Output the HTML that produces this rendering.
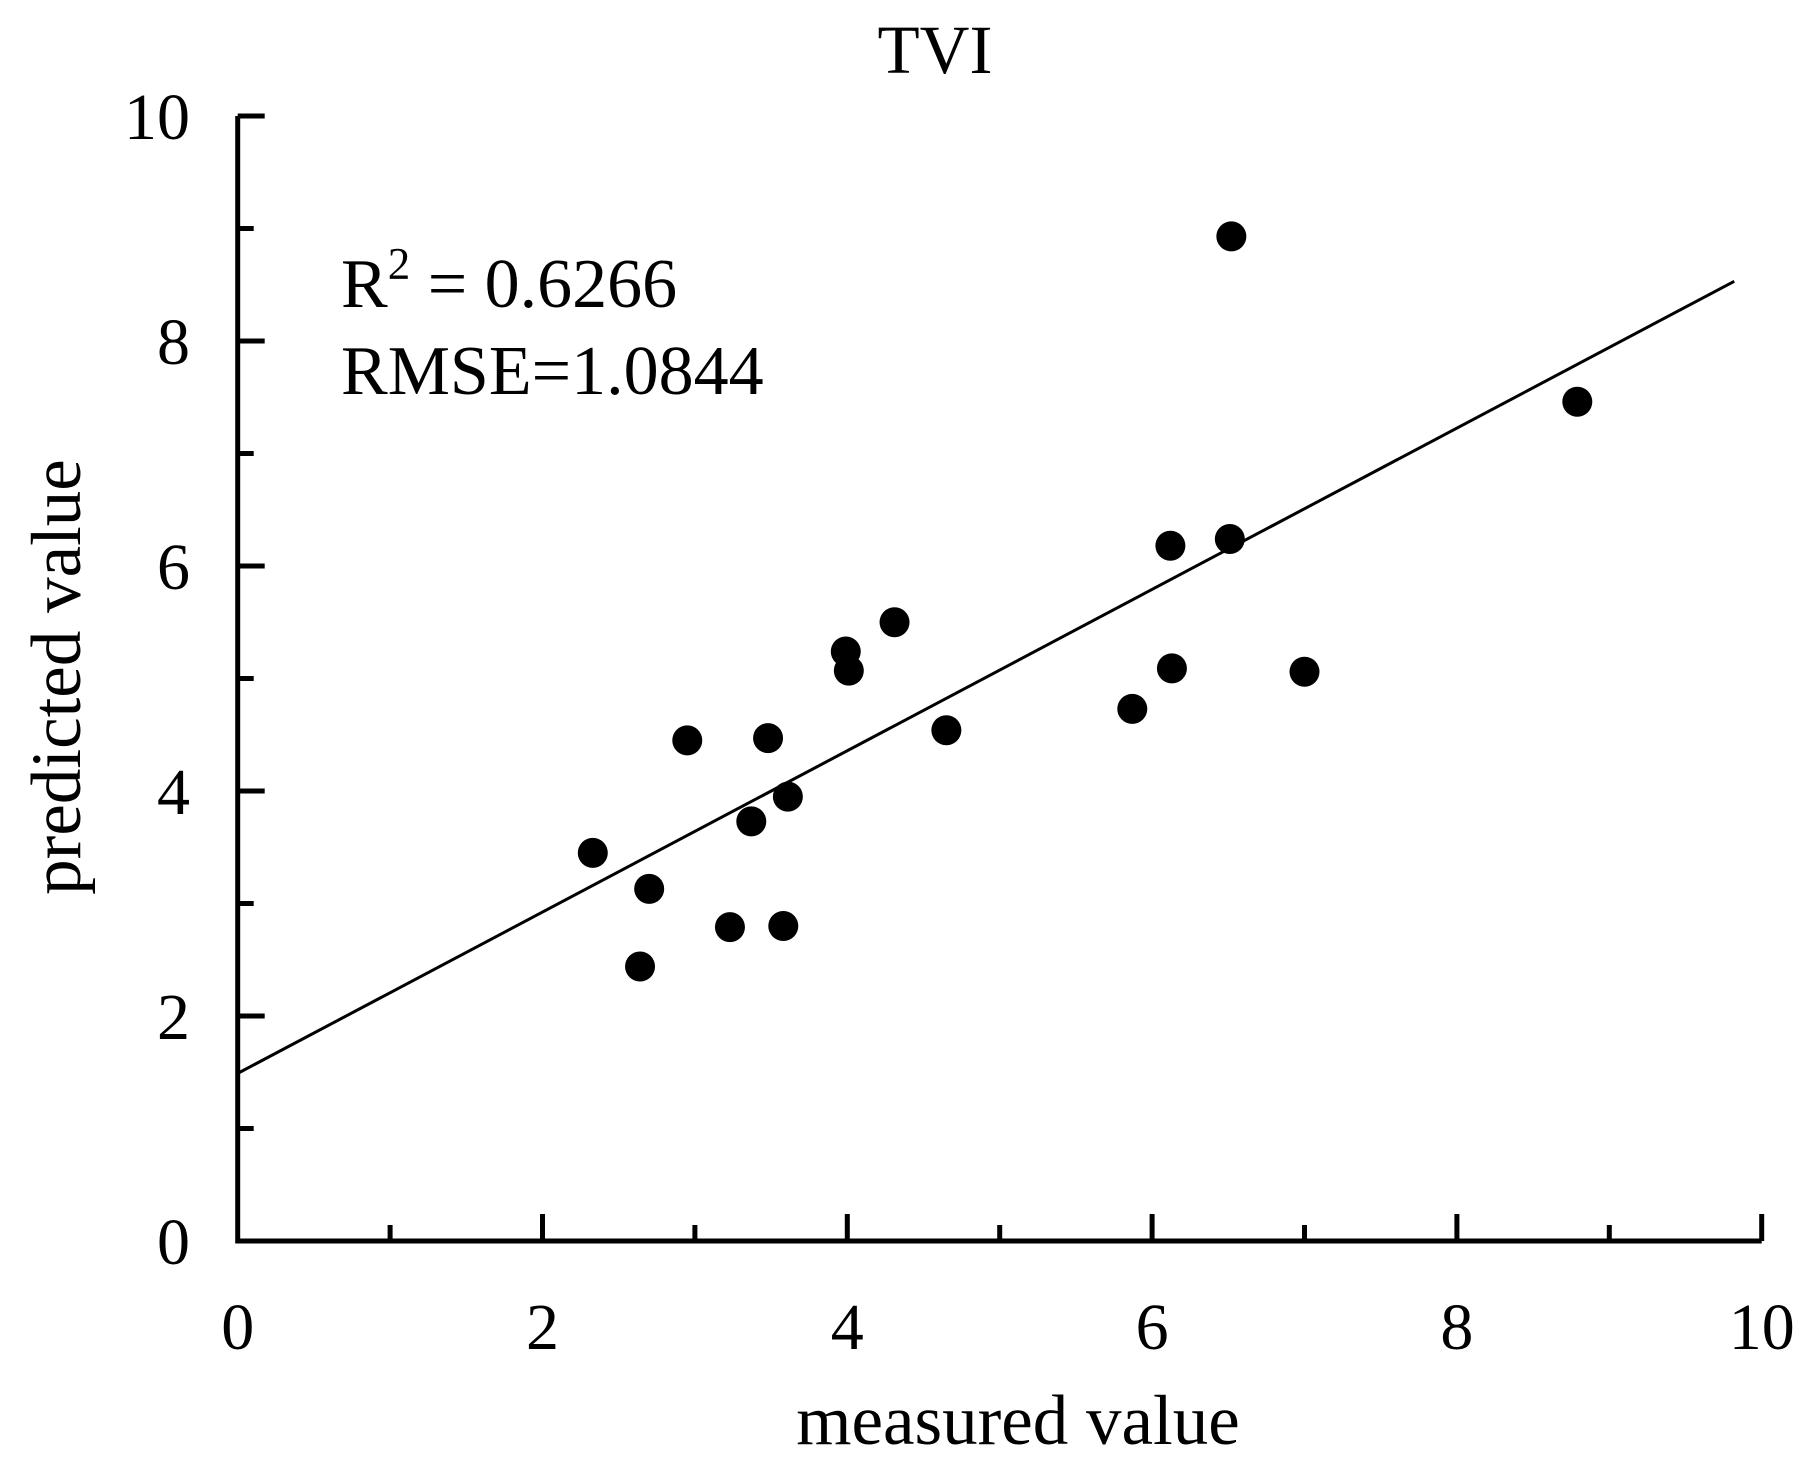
<!DOCTYPE html>
<html><head><meta charset="utf-8"><style>
html,body{margin:0;padding:0;background:#fff;}
svg{display:block;}
text{font-family:"Liberation Serif",serif;fill:#000;}
</style></head><body>
<svg id="chart" width="1813" height="1465" viewBox="0 0 1813 1465" xmlns="http://www.w3.org/2000/svg">
<text x="935" y="73" font-size="69" text-anchor="middle">TVI</text>
<text x="1018" y="1444" font-size="71" text-anchor="middle">measured value</text>
<text x="0" y="0" font-size="71" text-anchor="middle" transform="translate(80,677) rotate(-90)">predicted value</text>
<text x="341" y="307" font-size="70">R<tspan font-size="45" dy="-28">2</tspan><tspan dy="28"> = 0.6266</tspan></text>
<text x="341" y="394" font-size="70">RMSE=1.0844</text>
<g id="axes"></g>
<g id="fit"></g>
<g id="points"></g>
</svg>
<script>
const measured = [2.33,2.64,2.70,2.95,3.23,3.37,3.48,3.58,3.61,3.99,4.01,4.31,4.65,5.87,6.12,6.13,6.51,6.52,7.00,8.79];
const predicted = [3.45,2.44,3.13,4.45,2.79,3.73,4.47,2.80,3.95,5.24,5.07,5.50,4.54,4.73,6.18,5.09,6.24,8.93,5.06,7.46];
const fitSlope = 0.717;
const fitIntercept = 1.49;
const fitRange = [0, 9.82];
const xTicks = [0,1,2,3,4,5,6,7,8,9,10];
const yTicks = [0,1,2,3,4,5,6,7,8,9,10];

const NS = "http://www.w3.org/2000/svg";
const X0 = 237.7, XS = 152.4, Y0 = 1241, YS = 112.5;
function sx(v){ return X0 + XS*v; }
function sy(v){ return Y0 - YS*v; }
function mk(tag, attrs, parent){
  const e = document.createElementNS(NS, tag);
  for (const k in attrs) e.setAttribute(k, attrs[k]);
  parent.appendChild(e);
  return e;
}
const axes = document.getElementById('axes');
let e = mk('line',{x1:sx(0),y1:sy(0),x2:sx(10),y2:sy(0),stroke:'#000','stroke-width':5},axes);


e = mk('line',{x1:sx(0),y1:sy(0)+2.5,x2:sx(0),y2:sy(10),stroke:'#000','stroke-width':5},axes);


xTicks.forEach(t=>{
  const len = t%2===0 ? 27 : 16;
  if (t>0){
    const l = mk('line',{x1:sx(t),y1:sy(0),x2:sx(t),y2:sy(0)-len,stroke:'#000','stroke-width':5},axes);
    
    
  }
  if (t%2===0){
    const tx = mk('text',{x:sx(t),y:1349,'font-size':66,'text-anchor':'middle'},axes);
    tx.textContent = t;
    
    
  }
});
yTicks.forEach(t=>{
  const len = t%2===0 ? 27 : 16;
  if (t>0){
    const l = mk('line',{x1:sx(0),y1:sy(t),x2:sx(0)+len,y2:sy(t),stroke:'#000','stroke-width':5},axes);
    
    
  }
  if (t%2===0){
    const tx = mk('text',{x:190,y:sy(t)+23,'font-size':66,'text-anchor':'end'},axes);
    tx.textContent = t;
    
    
  }
});
const fit = document.getElementById('fit');
const fl = mk('line',{x1:sx(fitRange[0]),y1:sy(fitIntercept+fitSlope*fitRange[0]),x2:sx(fitRange[1]),y2:sy(fitIntercept+fitSlope*fitRange[1]),stroke:'#000','stroke-width':3},fit);


const pts = document.getElementById('points');
measured.forEach((m,i)=>{
  const c = mk('circle',{cx:sx(m),cy:sy(predicted[i]),r:15,fill:'#000'},pts);
  
  
});
</script>
</body></html>
